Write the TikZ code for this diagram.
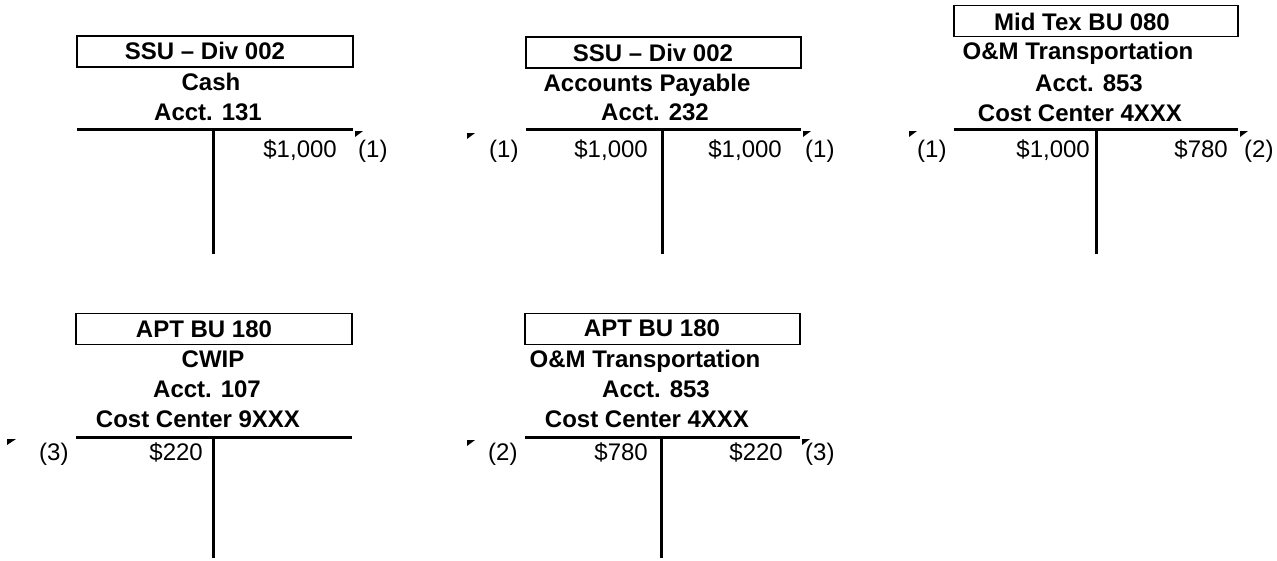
\documentclass[tikz,border=0pt]{standalone}
\usepackage{fontspec}
\setmainfont{Liberation Sans}
\begin{document}
\begin{tikzpicture}[x=1pt,y=-1pt,
  hdrbox/.style={draw=black, line width=1.5pt, inner sep=0pt, minimum height=31pt},
  hd/.style={anchor=base, inner sep=0pt, font=\fontsize{24}{28}\selectfont\bfseries},
  amt/.style={anchor=base east, inner sep=0pt, font=\fontsize{24}{28}\selectfont},
  ref/.style={anchor=base west, inner sep=0pt, font=\fontsize{24}{28}\selectfont},
  tline/.style={line width=3pt},
  flag/.style={fill=black}
]
\useasboundingbox (0,0) rectangle (1277,560);

% ---------- T1: Cash ----------
\node[hdrbox, minimum width=276pt] (b1) at (215,51.5) {};
\node[hd] (h1) at (205,59) {SSU – Div 002};
\node[hd] (n1a) at (211,90) {Cash};
\node[hd] (n1b) at (208,120) {Acct. 131};
\coordinate (t1l) at (77,129.5);
\coordinate (t1r) at (353,129.5);
\coordinate (t1m) at (213.5,129.5);
\coordinate (t1b) at (213.5,254);
\draw[tline] (t1l) -- (t1r);
\draw[tline] (t1m) -- (t1b);
\node[amt] (a1r) at (337,157) {\$1,000};
\coordinate (f1) at (355,131);
\fill[flag] (f1) -- ++(8,0) -- ++(-8,6) -- cycle;
\node[ref] (r1) at (358,157) {(1)};

% ---------- T2: Accounts Payable ----------
\node[hdrbox, minimum width=275pt] (b2) at (663.5,52.5) {};
\node[hd] (h2) at (653,61) {SSU – Div 002};
\node[hd] (n2a) at (647,91) {Accounts Payable};
\node[hd] (n2b) at (655,120) {Acct. 232};
\coordinate (t2l) at (526,129.5);
\coordinate (t2r) at (801,129.5);
\coordinate (t2m) at (662,129.5);
\coordinate (t2b) at (662,254);
\draw[tline] (t2l) -- (t2r);
\draw[tline] (t2m) -- (t2b);
\node[amt] (a2l) at (648,157) {\$1,000};
\node[amt] (a2r) at (782,157) {\$1,000};
\coordinate (f2l) at (467,133);
\fill[flag] (f2l) -- ++(8,0) -- ++(-8,6) -- cycle;
\node[ref] (r2l) at (489,157) {(1)};
\coordinate (f2r) at (803,131);
\fill[flag] (f2r) -- ++(8,0) -- ++(-8,6) -- cycle;
\node[ref] (r2r) at (805,157) {(1)};

% ---------- T3: Mid Tex O&M ----------
\node[hdrbox, minimum width=284pt] (b3) at (1096,21) {};
\node[hd] (h3) at (1082,30) {Mid Tex BU 080};
\node[hd] (n3a) at (1078,59) {O\&M Transportation};
\node[hd] (n3b) at (1089,91) {Acct. 853};
\node[hd] (n3c) at (1080,121) {Cost Center 4XXX};
\coordinate (t3l) at (954,129.5);
\coordinate (t3r) at (1238,129.5);
\coordinate (t3m) at (1096,129.5);
\coordinate (t3b) at (1096,254);
\draw[tline] (t3l) -- (t3r);
\draw[tline] (t3m) -- (t3b);
\node[amt] (a3l) at (1090,157) {\$1,000};
\node[amt] (a3r) at (1228,157) {\$780};
\coordinate (f3l) at (909,131);
\fill[flag] (f3l) -- ++(8,0) -- ++(-8,6) -- cycle;
\node[ref] (r3l) at (917,157) {(1)};
\coordinate (f3r) at (1240,131);
\fill[flag] (f3r) -- ++(8,0) -- ++(-8,6) -- cycle;
\node[ref] (r3r) at (1244,157) {(2)};

% ---------- T4: CWIP ----------
\node[hdrbox, minimum width=276pt] (b4) at (214,329) {};
\node[hd] (h4) at (204,337) {APT BU 180};
\node[hd] (n4a) at (213,367) {CWIP};
\node[hd] (n4b) at (207,397) {Acct. 107};
\node[hd] (n4c) at (198,427) {Cost Center 9XXX};
\coordinate (t4l) at (76,437.5);
\coordinate (t4r) at (352,437.5);
\coordinate (t4m) at (213,437.5);
\coordinate (t4b) at (213,558);
\draw[tline] (t4l) -- (t4r);
\draw[tline] (t4m) -- (t4b);
\node[amt] (a4l) at (203,460) {\$220};
\coordinate (f4l) at (7,439);
\fill[flag] (f4l) -- ++(9,0) -- ++(-9,6) -- cycle;
\node[ref] (r4l) at (39,460) {(3)};

% ---------- T5: APT O&M ----------
\node[hdrbox, minimum width=275pt] (b5) at (662.5,329) {};
\node[hd] (h5) at (652,336) {APT BU 180};
\node[hd] (n5a) at (645,367) {O\&M Transportation};
\node[hd] (n5b) at (656,397) {Acct. 853};
\node[hd] (n5c) at (647,427) {Cost Center 4XXX};
\coordinate (t5l) at (525,437.5);
\coordinate (t5r) at (800,437.5);
\coordinate (t5m) at (661,437.5);
\coordinate (t5b) at (661,558);
\draw[tline] (t5l) -- (t5r);
\draw[tline] (t5m) -- (t5b);
\node[amt] (a5l) at (648,460) {\$780};
\node[amt] (a5r) at (783,460) {\$220};
\coordinate (f5l) at (467,440);
\fill[flag] (f5l) -- ++(8,0) -- ++(-8,6) -- cycle;
\node[ref] (r5l) at (488,460) {(2)};
\coordinate (f5r) at (802,439);
\fill[flag] (f5r) -- ++(8,0) -- ++(-8,6) -- cycle;
\node[ref] (r5r) at (805,460) {(3)};
\end{tikzpicture}
\end{document}
